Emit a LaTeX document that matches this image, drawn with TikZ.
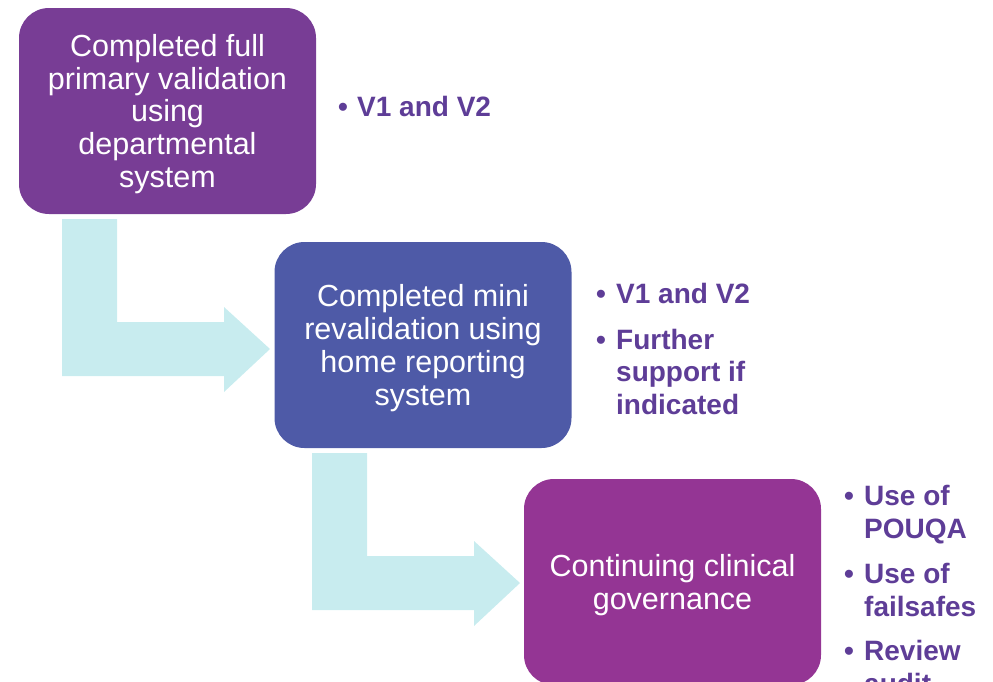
\documentclass[tikz,border=0pt]{standalone}
\usepackage{fontspec}
\setmainfont{Liberation Sans}
\begin{document}
\begin{tikzpicture}[x=1pt,y=-1pt,
  box/.style={rectangle, rounded corners=30pt, minimum width=297pt, minimum height=206pt, inner sep=0pt, text=white, align=center, font=\fontsize{30.5}{32.8}\selectfont},
  bul/.style={anchor=base west, inner sep=0pt, text=bultxt, font=\bfseries\fontsize{28}{32.5}\selectfont, align=left},
  flow/.style={fill=arrowc, draw=none}]
\definecolor{boxa}{HTML}{783D95}
\definecolor{boxb}{HTML}{4E5AA7}
\definecolor{boxc}{HTML}{943594}
\definecolor{bultxt}{HTML}{5E3D97}
\definecolor{arrowc}{HTML}{C8ECEF}
\useasboundingbox (0,0) rectangle (993,681);
\begin{scope}
\clip (0,0) rectangle (993,681);
% flow arrows
\fill[arrowc] (62,219) -- (117,219) -- (117,322) -- (224,322) -- (224,307) -- (270,349) -- (224,392) -- (224,376) -- (62,376) -- cycle;
\fill[arrowc] (312,453) -- (367,453) -- (367,556) -- (474,556) -- (474,541) -- (520,583) -- (474,626) -- (474,610) -- (312,610) -- cycle;
% boxes
\node[box, fill=boxa] (b1) at (167.5,111) {};
\node[text=white, align=center, font=\fontsize{30.5}{32.8}\selectfont, inner sep=0pt] (l1) at (167.5,114) {Completed full\\primary validation\\using\\departmental\\system};
\node[box, fill=boxb] (b2) at (423,345) {};
\node[text=white, align=center, font=\fontsize{30.5}{32.8}\selectfont, inner sep=0pt] (l2) at (423,348) {Completed mini\\revalidation using\\home reporting\\system};
\node[box, fill=boxc] (b3) at (672.5,582) {};
\node[text=white, align=center, font=\fontsize{30.5}{32.8}\selectfont, inner sep=0pt] (l3) at (672.5,585) {Continuing clinical\\governance};
% bullets
\node[bul] (d1) at (338,116) {•};
\node[bul] (t1) at (357,116) {V1 and V2};
\node[bul] (d2) at (596,303) {•};
\node[bul] (t2) at (616,303) {V1 and V2};
\node[bul] (d3) at (596,349) {•};
\node[bul] (t3) at (616,414) {Further\\support if\\indicated};
\node[bul] (d4) at (844,505) {•};
\node[bul] (t4) at (864,538) {Use of\\POUQA};
\node[bul] (d5) at (844,583) {•};
\node[bul] (t5) at (864,616) {Use of\\failsafes};
\node[bul] (d6) at (844,660) {•};
\node[bul] (t6) at (864,693) {Review\\audit};
\end{scope}
\end{tikzpicture}
\end{document}
